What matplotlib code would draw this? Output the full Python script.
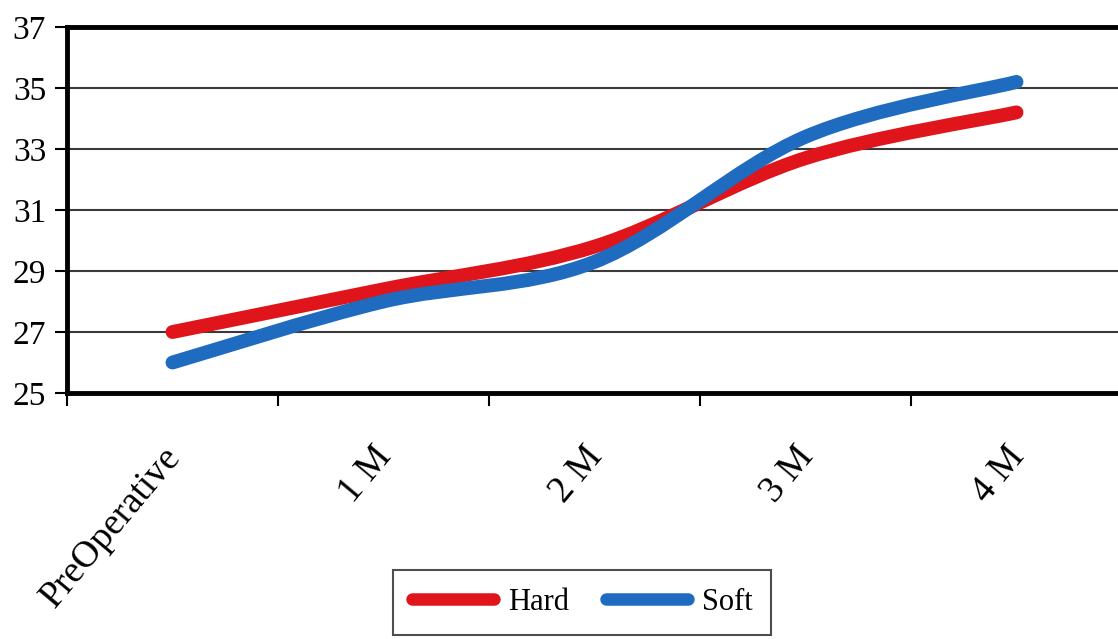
import matplotlib
matplotlib.use("Agg")
import matplotlib.pyplot as plt
import matplotlib.transforms as mtransforms
from matplotlib.path import Path
from matplotlib.patches import PathPatch
from matplotlib.lines import Line2D

# values
categories = ["PreOperative", "1 M", "2 M", "3 M", "4 M"]
hard = [27.0, 28.4, 29.8, 32.7, 34.2]
soft = [26.0, 28.0, 29.3, 33.4, 35.2]
y_ticks = [25, 27, 29, 31, 33, 35, 37]

red = "#e0141b"
blue = "#1e6bc0"

plt.rcParams["font.family"] = ["Liberation Serif", "DejaVu Serif"]


def smooth_path(xs, ys):
    # spreadsheet-style smoothed line: cubic bezier through every point
    pts = list(zip(xs, ys))
    verts = [pts[0]]
    codes = [Path.MOVETO]
    n = len(pts)
    for i in range(n - 1):
        p0 = pts[max(i - 1, 0)]
        p1 = pts[i]
        p2 = pts[i + 1]
        p3 = pts[min(i + 2, n - 1)]
        c1 = (p1[0] + (p2[0] - p0[0]) / 6, p1[1] + (p2[1] - p0[1]) / 6)
        c2 = (p2[0] - (p3[0] - p1[0]) / 6, p2[1] - (p3[1] - p1[1]) / 6)
        verts += [c1, c2, p2]
        codes += [Path.CURVE4] * 3
    return Path(verts, codes)


fig = plt.figure(figsize=(11.18, 6.39), dpi=100)
ax = fig.add_axes([67 / 1118, 246 / 639, 1055 / 1118, 366 / 639])

x = list(range(len(categories)))
for vals, col in [(hard, red), (soft, blue)]:
    patch = PathPatch(smooth_path(x, vals), facecolor="none", edgecolor=col,
                      linewidth=10, capstyle="round", joinstyle="round", zorder=3)
    ax.add_patch(patch)

ax.set_xlim(-0.5, len(categories) - 0.5)
ax.set_ylim(25, 37)
ax.set_yticks(y_ticks)
ax.set_yticklabels([str(t) for t in y_ticks])
for t in y_ticks[1:-1]:
    ax.axhline(t, color="#3a3a3a", linewidth=1.5, zorder=1)

# boundary ticks, labels in the middle of each category
ax.set_xticks([i - 0.5 for i in range(len(categories) + 1)])
ax.set_xticklabels([])
ax.set_xticks(x, minor=True)
ax.set_xticklabels(categories, minor=True, rotation=50, ha="right", va="center",
                   rotation_mode="anchor", fontsize=27)
ax.tick_params(axis="x", which="minor", length=0, pad=42)
shift = mtransforms.ScaledTranslation(0.02, 0, fig.dpi_scale_trans)
for lab in ax.get_xticklabels(minor=True):
    lab.set_transform(lab.get_transform() + shift)

ax.tick_params(axis="x", which="major", direction="out", length=9, width=1.5)
ax.tick_params(axis="y", direction="out", length=9, width=1.5, labelsize=24, pad=6)

for side in ["left", "top", "bottom"]:
    ax.spines[side].set_linewidth(3.5)
ax.spines["right"].set_visible(False)

handles = [Line2D([], [], color=red, linewidth=9, solid_capstyle="round"),
           Line2D([], [], color=blue, linewidth=9, solid_capstyle="round")]
leg = fig.legend(handles, ["Hard", "Soft"], loc="center", bbox_to_anchor=(0.5206, 0.057),
                 ncol=2, fontsize=22, frameon=True, fancybox=False, edgecolor="#222222",
                 handlelength=2.7, handletextpad=0.45, columnspacing=1.2, borderpad=0.6)
leg.get_frame().set_linewidth(1.5)

fig.savefig("out.png", dpi=100)
